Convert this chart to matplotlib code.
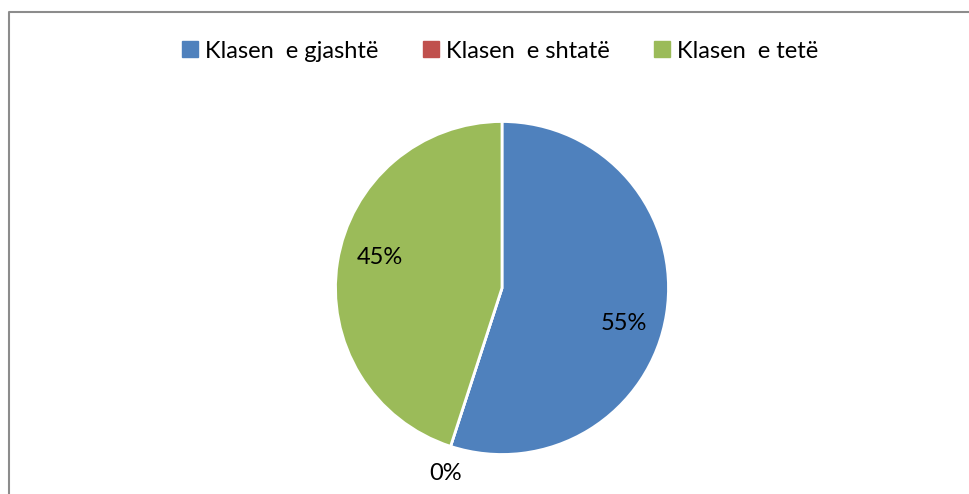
import numpy as np
import matplotlib
matplotlib.use("Agg")
import matplotlib.pyplot as plt
from matplotlib.lines import Line2D

# data
categories = ["Klasen  e gjashtë", "Klasen  e shtatë", "Klasen  e tetë"]
shares = [55, 0, 45]
colors = ["#4F81BD", "#C0504D", "#9BBB59"]

plt.rcParams['font.family'] = ['Lato', 'DejaVu Sans']

W, H = 969, 494
fig = plt.figure(figsize=(W / 100, H / 100), dpi=100)

# pie axes placed so the disc sits where the reference has it
cx, cy, r = 502, 288, 166.5
ax = fig.add_axes([(cx - r) / W, (H - cy - r) / H, 2 * r / W, 2 * r / H])
wedges, _ = ax.pie(
    shares,
    colors=colors,
    startangle=90,
    counterclock=False,
    radius=1,
    wedgeprops=dict(edgecolor='white', linewidth=2),
)
ax.set_xlim(-1, 1)
ax.set_ylim(-1, 1)
ax.set_aspect('equal')
ax.axis('off')

# percentage labels, Excel style (empty slices get their label outside)
total = sum(shares)
for w, v in zip(wedges, shares):
    if v > 0:
        mid, dist = (w.theta1 + w.theta2) / 2 - 6, 0.76
    else:
        mid, dist = (w.theta1 + w.theta2) / 2 + 1, 1.15
    mid = np.deg2rad(mid)
    ax.text(dist * np.cos(mid), dist * np.sin(mid) - 0.015, "{:.0f}%".format(100 * v / total),
            ha='center', va='center', fontsize=17, color='black', clip_on=False)

# legend on top
handles = [Line2D([], [], marker='s', linestyle='none', markersize=11,
                  markerfacecolor=c, markeredgecolor=c) for c in colors]
fig.legend(handles, categories, loc='center', bbox_to_anchor=(0.516, 1 - 51 / H),
           ncol=3, frameon=False, fontsize=17, handlelength=0.7,
           handletextpad=0.3, columnspacing=1.85)

# chart frame (right and bottom edges are cut off in the reference)
fig.add_artist(Line2D([1.01, 9 / W, 9 / W], [1 - 12 / H, 1 - 12 / H, -0.01],
                      color='#8c8c8c', linewidth=1.5, transform=fig.transFigure))

fig.savefig("out.png", dpi=100)
